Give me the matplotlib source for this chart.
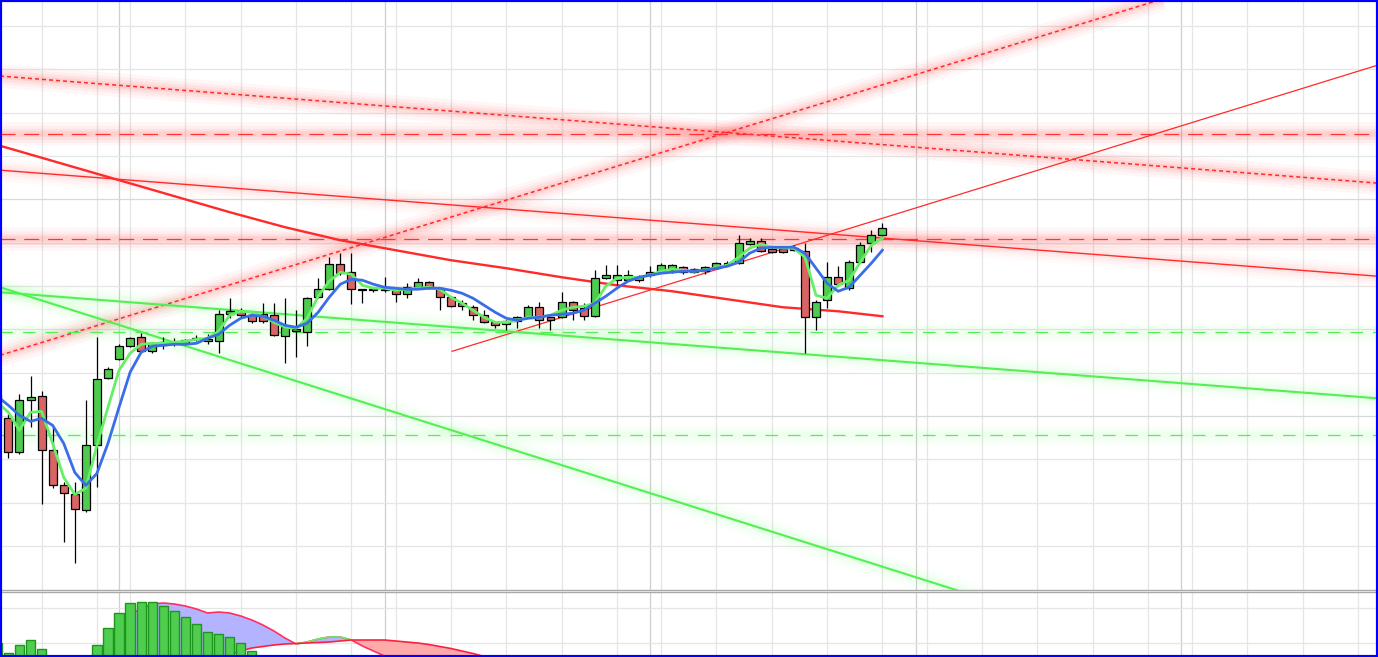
import matplotlib
matplotlib.use("Agg")
import matplotlib.pyplot as plt
import numpy as np
from matplotlib.patches import Rectangle

# ---------------- data ----------------
idx = list(range(-1, 80))
opens = [205, 182, 148, 200, 204, 150, 115, 106, 90, 155, 222, 241, 254, 263, 249, 258, 257, 257, 262, 259,
         259, 286, 289, 285, 286, 285, 264, 269, 268, 303, 311, 336, 328, 311, 310, 311, 311, 306, 313, 318,
         312, 303, 297, 293, 285, 278, 276, 279, 283, 293, 283, 283, 298, 292, 284, 322, 320, 320, 320, 325,
         328, 330, 333, 328, 329, 332, 335, 337, 356, 359, 351, 351, 352, 349, 283, 300, 323, 312, 338, 357, 365]
highs = [212, 186, 206, 224, 209, 173, 118, 118, 200, 263, 233, 256, 263, 267, 258, 263, 262, 261, 265, 266,
         290, 302, 292, 288, 297, 297, 302, 290, 303, 322, 343, 347, 347, 311, 313, 323, 312, 317, 322, 319,
         313, 304, 300, 295, 290, 279, 280, 284, 295, 298, 284, 308, 299, 297, 330, 335, 335, 330, 325, 334,
         337, 336, 334, 332, 334, 338, 339, 365, 362, 362, 353, 353, 355, 357, 300, 338, 334, 340, 358, 370, 377]
lows = [175, 142, 146, 173, 96, 112, 58, 37, 88, 113, 221, 240, 253, 248, 247, 251, 254, 255, 259, 256,
        247, 282, 282, 277, 277, 264, 237, 243, 254, 302, 310, 325, 296, 297, 308, 308, 298, 302, 312, 311,
        290, 293, 290, 280, 277, 272, 270, 272, 282, 272, 270, 282, 280, 280, 283, 321, 315, 319, 318, 323,
        327, 327, 326, 327, 326, 331, 334, 336, 355, 348, 347, 347, 349, 247, 270, 292, 314, 310, 337, 348, 364]
closes = [181, 148, 200, 203, 150, 115, 107, 91, 155, 221, 231, 254, 262, 249, 257, 255, 258, 260, 261, 261,
          286, 289, 285, 279, 279, 265, 273, 271, 302, 311, 336, 327, 311, 310, 311, 310, 306, 313, 318, 312,
          303, 294, 294, 285, 278, 275, 279, 283, 293, 280, 280, 298, 290, 284, 322, 325, 325, 325, 323, 328,
          335, 335, 328, 331, 333, 337, 337, 357, 359, 349, 348, 348, 350, 283, 298, 323, 316, 338, 355, 365, 372]

ma_fast = [198, 188, 170, 188, 189, 157, 123, 106, 112, 155, 193, 230, 247, 256, 257, 257, 258, 259, 261, 262,
           269, 285, 289, 288, 284, 278, 273, 272, 282, 304, 319, 328, 326, 315, 312, 312, 310, 311, 312, 313,
           311, 303, 297, 290, 283, 278, 278, 280, 283, 283, 285, 290, 293, 294, 297, 314, 322, 323, 323, 325,
           329, 331, 330, 329, 330, 333, 335, 343, 352, 356, 353, 352, 352, 343, 305, 302, 315, 320, 338, 355, 362]
ma_slow = [204, 195, 185, 179, 182, 175, 157, 128, 115, 127, 157, 193, 228, 248, 254, 255, 256, 256, 257, 262,
           266, 275, 282, 285, 284, 280, 275, 273, 277, 288, 303, 316, 321, 320, 316, 313, 312, 311, 311, 312,
           312, 310, 307, 302, 295, 288, 282, 280, 282, 283, 285, 286, 287, 290, 297, 304, 312, 319, 323, 325,
           327, 328, 329, 329, 330, 332, 334, 338, 347, 352, 353, 353, 353, 347, 332, 317, 309, 313, 325, 337, 350]

ma_long_idx = [-1, 0, 5, 10, 15, 20, 25, 30, 35, 40, 45, 50, 55, 60, 65, 70, 75, 79]
ma_long = [455, 452, 436, 420, 404, 388, 373, 360, 350, 340, 332, 323, 315, 309, 301, 293, 289, 284]

# trend lines (index, price) end points
red_dotted_down = [(-0.76, 524), (123.8, 417)]
red_dotted_up = [(-0.76, 245), (123.8, 667)]
red_thin_down = [(-0.76, 430), (123.8, 324)]
red_thin_up = [(40.1, 249), (123.8, 535)]
green_steep = [(-0.76, 313), (123.8, -123)]
green_shallow = [(-0.76, 308), (123.8, 202)]
red_levels = [466, 361]
green_levels = [268, 165]

# oscillator panel
hist_idx = list(range(-1, 23))
hist_vals = [17, 7, 15, 20, 11, -8, -15, -18, -10, 15, 32, 47, 57, 58, 58, 54, 49, 43, 36, 28, 26, 23, 17, 9]
lineA_idx = list(range(8, 36))
lineA = [-5, 18, 36, 46, 51, 56, 57, 56, 54, 51, 47, 48, 47, 44, 40, 35, 29, 22, 16, 18, 21, 23, 23, 20, 14, 9, 4, -1]
lineB_idx = list(range(18, 45))
lineB = [-5, 0, 5, 9, 12, 13.5, 15, 16, 16.5, 17, 17.5, 18, 19, 20, 20, 20, 20, 19, 18, 17, 15.5, 13.5, 11.5, 9, 6.5, 3.5, 1]

grid_light_x = [3, 8, 11, 16, 21, 26, 31, 35, 40, 45, 50, 55, 59, 64, 69, 74, 79, 83, 88, 93, 98, 103, 107, 112, 117, 122]
grid_dark_x = [10, 34, 58, 82, 106]
grid_y = [574.2, 530.9, 487.5, 444.2, 400.9, 357.5, 314.2, 270.9, 227.5, 184.2, 140.9, 97.5, 54.2]
grid_y_dark = [400.9, 184.2]
grid_y_low = [52, 17]

# ---------------- figure ----------------
W, H, DPI = 1378, 657, 100
fig = plt.figure(figsize=(W / DPI, H / DPI), dpi=DPI)
fig.patch.set_facecolor('white')

ax = fig.add_axes([0, 1 - 589.5 / H, 1, 589.5 / H])
ax2 = fig.add_axes([0, 0, 1, 65 / H])
XLIM = (-0.759, 123.8)
for a in (ax, ax2):
    a.set_xlim(*XLIM)
    a.set_xticks([]); a.set_yticks([])
    for s in a.spines.values():
        s.set_visible(False)
    a.set_facecolor('white')
ax.set_ylim(11, 600)
ax2.set_ylim(3, 68)
ax.spines['bottom'].set_visible(True)
ax.spines['bottom'].set_color('#a9a9a9')
ax.spines['bottom'].set_linewidth(1.0)
ax2.spines['top'].set_visible(True)
ax2.spines['top'].set_color('#a9a9a9')
ax2.spines['top'].set_linewidth(1.0)

for a in (ax, ax2):
    for gx in grid_light_x:
        a.axvline(gx, color='#e6e6e6', lw=0.9, zorder=0)
    for gx in grid_dark_x:
        a.axvline(gx, color='#cfcfcf', lw=0.9, zorder=0)
for gy in grid_y:
    ax.axhline(gy, color='#d9d9d9' if gy in grid_y_dark else '#e6e6e6', lw=0.9, zorder=0)
for gy in grid_y_low:
    ax2.axhline(gy, color='#e6e6e6', lw=0.9, zorder=0)


def glow(a, xs, ys, color, strength=1.0):
    for lw, al in [(17, 0.035), (12, 0.05), (8, 0.07), (4, 0.09)]:
        a.plot(xs, ys, color=color, lw=lw, alpha=al * strength,
               solid_capstyle='butt', zorder=1)


def seg(p):
    return [p[0][0], p[1][0]], [p[0][1], p[1][1]]

# glows
for ln in (red_dotted_down, red_dotted_up):
    glow(ax, *seg(ln), '#ff5050', 1.2)
for lv in red_levels:
    glow(ax, list(XLIM), [lv, lv], '#ff5050', 1.2)
glow(ax, *seg(red_thin_down), '#ff5050', 0.6)
for ln in (green_steep, green_shallow):
    glow(ax, *seg(ln), '#60ff60', 0.6)
for lv in green_levels:
    glow(ax, list(XLIM), [lv, lv], '#60ff60', 0.4)

# trend lines
for ln in (red_dotted_down, red_dotted_up):
    ax.plot(*seg(ln), color='#ff2a2a', lw=1.1, dashes=(2.6, 2.0), zorder=2)
for lv in red_levels:
    ax.plot(list(XLIM), [lv, lv], color='#ff3535', lw=0.9, dashes=(12, 7), zorder=2)
ax.plot(*seg(red_thin_down), color='#ff2a2a', lw=1.0, zorder=2)
ax.plot(*seg(red_thin_up), color='#ff2a2a', lw=0.9, zorder=2)
for ln in (green_steep, green_shallow):
    ax.plot(*seg(ln), color='#55ee55', lw=1.5, zorder=2)
for lv in green_levels:
    ax.plot(list(XLIM), [lv, lv], color='#55ee55', lw=0.9, dashes=(10, 8), zorder=2)
ax.plot(ma_long_idx, ma_long, color='#ff2a2a', lw=1.7, zorder=2)

# candles
o = np.array(opens, float); c = np.array(closes, float)
h = np.array(highs, float); l = np.array(lows, float)
x = np.array(idx, float)
up = c >= o
ax.vlines(x, l, h, color='black', lw=0.9, zorder=3)
bottoms = np.minimum(o, c)
heights = np.maximum(np.abs(c - o), 0.9)
ax.bar(x[up], heights[up], bottom=bottoms[up], width=0.72, color='#4fcc4f',
       edgecolor='black', linewidth=0.9, zorder=4)
ax.bar(x[~up], heights[~up], bottom=bottoms[~up], width=0.72, color='#d96464',
       edgecolor='black', linewidth=0.9, zorder=4)

# moving averages
ax.plot(idx, ma_fast, color='#66ee66', lw=2.0, zorder=5)
ax.plot(idx, ma_slow, color='#3a6ee8', lw=2.0, zorder=6)

# ---------------- oscillator panel ----------------
all_i = np.arange(8, 45)
A = np.full(all_i.shape, np.nan); B = np.full(all_i.shape, np.nan)
A[np.isin(all_i, lineA_idx)] = lineA
B[np.isin(all_i, lineB_idx)] = lineB
floor = -10.0
A_f = np.where(np.isnan(A), floor, A)
B_f = np.where(np.isnan(B), floor, B)
ax2.fill_between(all_i, A_f, B_f, where=A_f >= B_f, interpolate=True,
                 color='#b3b3ff', lw=0, zorder=1)
ax2.fill_between(all_i, A_f, B_f, where=B_f > A_f, interpolate=True,
                 color='#ffaaaa', lw=0, zorder=1)
ax2.plot(lineA_idx, lineA, color='#ff3060', lw=1.2, zorder=2)
ax2.plot(lineA_idx[18:24], lineA[18:24], color='#66ee66', lw=1.2, zorder=2)
ax2.plot(lineB_idx, lineB, color='#ff2040', lw=1.2, zorder=2)
ax2.bar(hist_idx, hist_vals, width=0.84, color='#4ecd4e', edgecolor='#1e961e',
        linewidth=1.0, zorder=3)

# blue frame
fig.patches.append(Rectangle((0, 0), 1, 1, transform=fig.transFigure, fill=False,
                             edgecolor='#0000ff', lw=3, zorder=10))

fig.savefig('out.png', dpi=DPI, facecolor='white')
